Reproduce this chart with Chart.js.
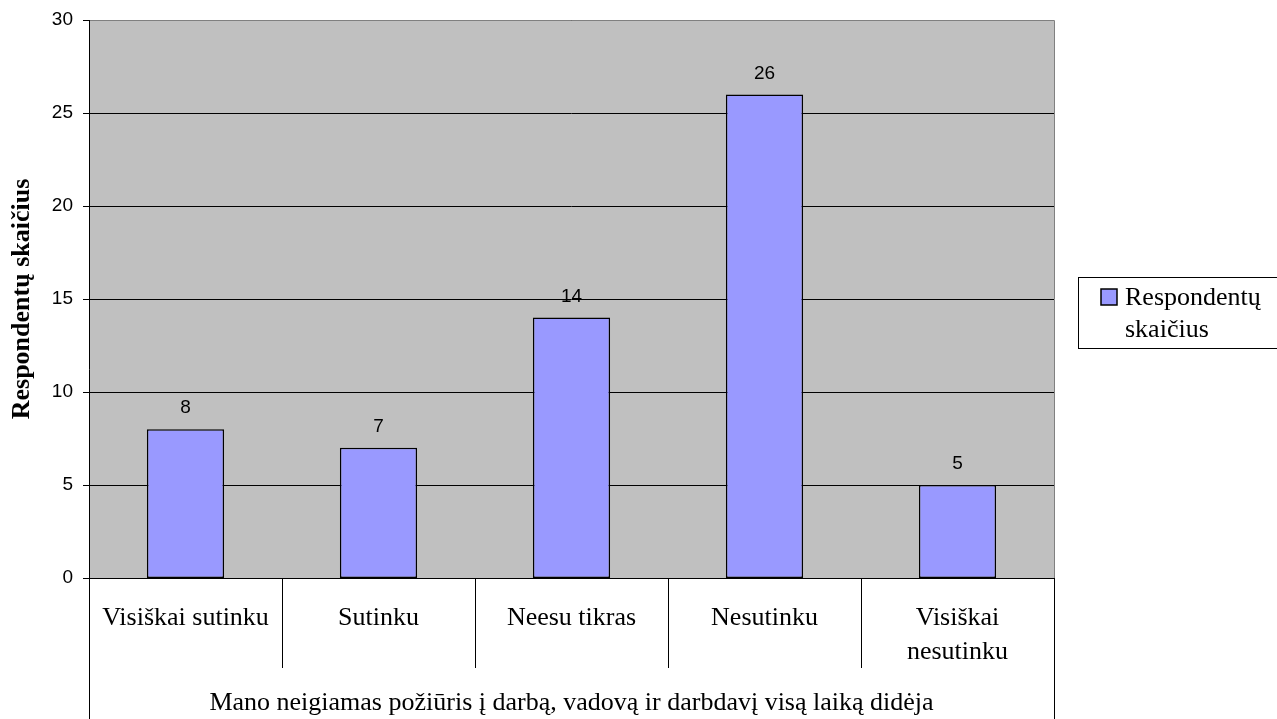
<!DOCTYPE html>
<html>
<head>
<meta charset="utf-8">
<script src="https://cdn.jsdelivr.net/npm/chart.js@4/dist/chart.umd.min.js"></script>
<style>
  html, body { margin: 0; padding: 0; background: #ffffff; }
  #wrap { width: 1277px; height: 719px; position: relative; }
</style>
</head>
<body>
<div id="wrap"><canvas id="c" width="1277" height="719"></canvas></div>
<script>
// Survey answers and respondent counts
const categories = [
  ['Visiškai sutinku'],
  ['Sutinku'],
  ['Neesu tikras'],
  ['Nesutinku'],
  ['Visiškai', 'nesutinku']
];
const counts = [8, 7, 14, 26, 5];
const yTicks = [0, 5, 10, 15, 20, 25, 30];
const seriesLabel = ['Respondentų', 'skaičius'];
const yTitle = 'Respondentų skaičius';
const xTitle = 'Mano neigiamas požiūris į darbą, vadovą ir darbdavį visą laiką didėja';

const SERIF = '"Liberation Serif", "Times New Roman", serif';
const SANS = '"Liberation Sans", Arial, sans-serif';

// Draws the category table under the plot, value labels, axis title, tick marks and legend
const decorations = {
  id: 'decorations',
  beforeDatasetsDraw(chart) {
    const { ctx, chartArea: a } = chart;
    ctx.save();
    ctx.fillStyle = '#c0c0c0';
    ctx.fillRect(a.left, a.top, a.right - a.left, a.bottom - a.top);
    // gridlines
    const y = chart.scales.y;
    ctx.strokeStyle = '#000000';
    ctx.lineWidth = 1;
    yTicks.forEach(v => {
      if (v === 0) return;
      const py = Math.round(y.getPixelForValue(v)) + 0.5;
      ctx.beginPath(); ctx.moveTo(a.left, py); ctx.lineTo(a.right, py); ctx.stroke();
    });
    ctx.restore();
  },
  afterDatasetsDraw(chart) {
    const { ctx, chartArea: a } = chart;
    const x = chart.scales.x, y = chart.scales.y;
    const H = chart.height;
    ctx.save();
    // plot frame
    ctx.strokeStyle = '#808080';
    ctx.lineWidth = 1;
    ctx.beginPath();
    ctx.moveTo(a.left, a.top + 0.5); ctx.lineTo(a.right + 0.5, a.top + 0.5);
    ctx.lineTo(a.right + 0.5, a.bottom);
    ctx.stroke();
    ctx.strokeStyle = '#000000';
    // y axis line with tick marks
    ctx.beginPath();
    ctx.moveTo(a.left + 0.5, a.top); ctx.lineTo(a.left + 0.5, H);
    ctx.stroke();
    yTicks.forEach(v => {
      const py = Math.round(y.getPixelForValue(v)) + 0.5;
      ctx.beginPath(); ctx.moveTo(a.left - 6, py); ctx.lineTo(a.left, py); ctx.stroke();
    });
    // baseline
    ctx.beginPath();
    ctx.moveTo(a.left, Math.round(a.bottom) + 0.5); ctx.lineTo(a.right + 1, Math.round(a.bottom) + 0.5);
    ctx.stroke();
    // right outer border of the table
    ctx.beginPath();
    ctx.moveTo(a.right + 0.5, a.bottom); ctx.lineTo(a.right + 0.5, H);
    ctx.stroke();
    // separators between categories
    const step = (a.right - a.left) / categories.length;
    for (let i = 1; i < categories.length; i++) {
      const px = Math.round(a.left + step * i) + 0.5;
      ctx.beginPath(); ctx.moveTo(px, a.bottom); ctx.lineTo(px, a.bottom + 90); ctx.stroke();
    }
    // category labels
    ctx.fillStyle = '#000000';
    ctx.font = '26px ' + SERIF;
    ctx.textAlign = 'center';
    ctx.textBaseline = 'middle';
    categories.forEach((lines, i) => {
      const cx = x.getPixelForValue(i);
      lines.forEach((t, j) => ctx.fillText(t, cx, a.bottom + 40 + j * 34));
    });
    // axis title under the table
    ctx.fillText(xTitle, (a.left + a.right) / 2, a.bottom + 125);
    // value labels above bars
    ctx.font = '19px ' + SANS;
    const meta = chart.getDatasetMeta(0);
    meta.data.forEach((bar, i) => {
      ctx.fillText(String(counts[i]), bar.x, bar.y - 21);
    });
    // y axis title
    ctx.save();
    ctx.translate(22, (a.top + a.bottom) / 2);
    ctx.rotate(-Math.PI / 2);
    ctx.font = 'bold 26px ' + SERIF;
    ctx.fillText(yTitle, 0, 0);
    ctx.restore();
    // legend
    const lx = 1078, ly = 277, lw = 200, lh = 71;
    ctx.fillStyle = '#ffffff';
    ctx.fillRect(lx, ly, lw, lh);
    ctx.strokeStyle = '#000000';
    ctx.lineWidth = 1;
    ctx.strokeRect(lx + 0.5, ly + 0.5, lw, lh);
    const ds = chart.data.datasets[0];
    ctx.fillStyle = ds.backgroundColor;
    ctx.fillRect(lx + 23, ly + 12, 16, 16);
    ctx.strokeStyle = ds.borderColor;
    ctx.lineWidth = 1.5;
    ctx.strokeRect(lx + 23, ly + 12, 16, 16);
    ctx.fillStyle = '#000000';
    ctx.font = '26px ' + SERIF;
    ctx.textAlign = 'left';
    ctx.fillText(seriesLabel[0], lx + 47, ly + 21);
    ctx.fillText(seriesLabel[1], lx + 47, ly + 53);
    ctx.restore();
  }
};

new Chart(document.getElementById('c'), {
  type: 'bar',
  data: {
    labels: categories.map(c => c.join(' ')),
    datasets: [{
      label: seriesLabel.join(' '),
      data: counts,
      backgroundColor: '#9999ff',
      borderColor: '#000000',
      borderWidth: 1.5,
      borderSkipped: false,
      categoryPercentage: 1,
      barPercentage: 0.4
    }]
  },
  options: {
    responsive: false,
    animation: false,
    devicePixelRatio: 1,
    layout: { padding: { top: 20, right: 223, left: 0, bottom: 0 } },
    plugins: { legend: { display: false }, tooltip: { enabled: false } },
    scales: {
      x: {
        grid: { display: false },
        border: { display: false },
        ticks: { display: false },
        afterFit(s) { s.height = 141; s.paddingLeft = 0; s.paddingRight = 0; }
      },
      y: {
        min: 0, max: 30,
        afterBuildTicks(s) { s.ticks = yTicks.map(v => ({ value: v })); },
        grid: { display: false },
        border: { display: false },
        ticks: {
          padding: 8,
          color: '#000000',
          font: { family: SANS, size: 19 }
        },
        afterFit(s) { s.width = 89; s.paddingTop = 0; s.paddingBottom = 0; }
      }
    }
  },
  plugins: [decorations]
});
</script>
</body>
</html>
